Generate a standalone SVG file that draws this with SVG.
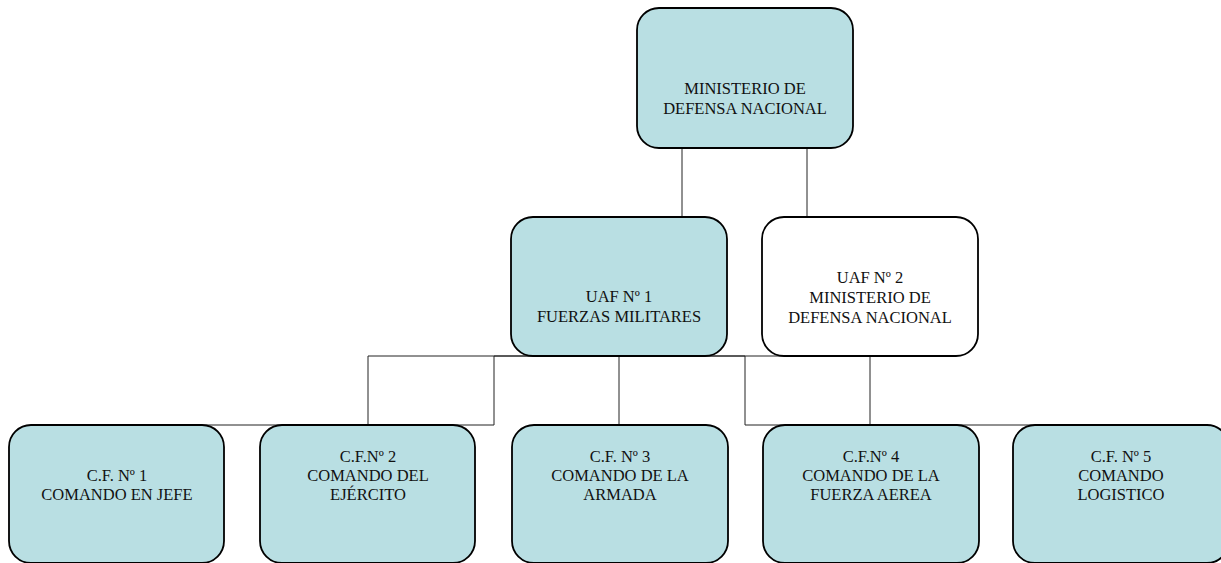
<svg xmlns="http://www.w3.org/2000/svg" width="1221" height="563" viewBox="0 0 1221 563">
<style>
.box{fill:#B9DFE3;stroke:#000;stroke-width:1.8}
.white{fill:#fff}
.conn{fill:none;stroke:#222;stroke-width:1}
text{font-family:"Liberation Serif","Times New Roman",serif;font-size:16.5px;fill:#111;text-anchor:middle}
</style>
<rect x="0" y="0" width="1221" height="563" fill="#fff"/>
<g id="connectors">
<path class="conn" d="M682,148V217"/>
<path class="conn" d="M807,148V217"/>
<path class="conn" d="M619,356H368V425H117"/>
<path class="conn" d="M619,356H494V425H368"/>
<path class="conn" d="M619,356V425"/>
<path class="conn" d="M619,356H745V425H871"/>
<path class="conn" d="M619,356H870V425H1121"/>
</g>
<g id="ministerio">
<rect class="box" x="637" y="8" width="216" height="140" rx="22"/>
<text x="745" y="94">MINISTERIO DE</text>
<text x="745" y="114">DEFENSA NACIONAL</text>
</g>
<g id="uaf1">
<rect class="box" x="511" y="217" width="216" height="139" rx="22"/>
<text x="619" y="302">UAF Nº 1</text>
<text x="619" y="322">FUERZAS MILITARES</text>
</g>
<g id="uaf2">
<rect class="box white" x="762" y="217" width="216" height="139" rx="22"/>
<text x="870" y="283">UAF Nº 2</text>
<text x="870" y="303">MINISTERIO DE</text>
<text x="870" y="323">DEFENSA NACIONAL</text>
</g>
<g id="cf1">
<rect class="box" x="9" y="425" width="215" height="138" rx="22"/>
<text x="117" y="481">C.F. Nº 1</text>
<text x="117" y="500">COMANDO EN JEFE</text>
</g>
<g id="cf2">
<rect class="box" x="260" y="425" width="215" height="138" rx="22"/>
<text x="368" y="462">C.F.Nº 2</text>
<text x="368" y="481">COMANDO DEL</text>
<text x="368" y="500">EJÉRCITO</text>
</g>
<g id="cf3">
<rect class="box" x="512" y="425" width="216" height="138" rx="22"/>
<text x="620" y="462">C.F. Nº 3</text>
<text x="620" y="481">COMANDO DE LA</text>
<text x="620" y="500">ARMADA</text>
</g>
<g id="cf4">
<rect class="box" x="763" y="425" width="216" height="138" rx="22"/>
<text x="871" y="462">C.F.Nº 4</text>
<text x="871" y="481">COMANDO DE LA</text>
<text x="871" y="500">FUERZA AEREA</text>
</g>
<g id="cf5">
<rect class="box" x="1013" y="425" width="216" height="138" rx="22"/>
<text x="1121" y="462">C.F. Nº 5</text>
<text x="1121" y="481">COMANDO</text>
<text x="1121" y="500">LOGISTICO</text>
</g>
</svg>
